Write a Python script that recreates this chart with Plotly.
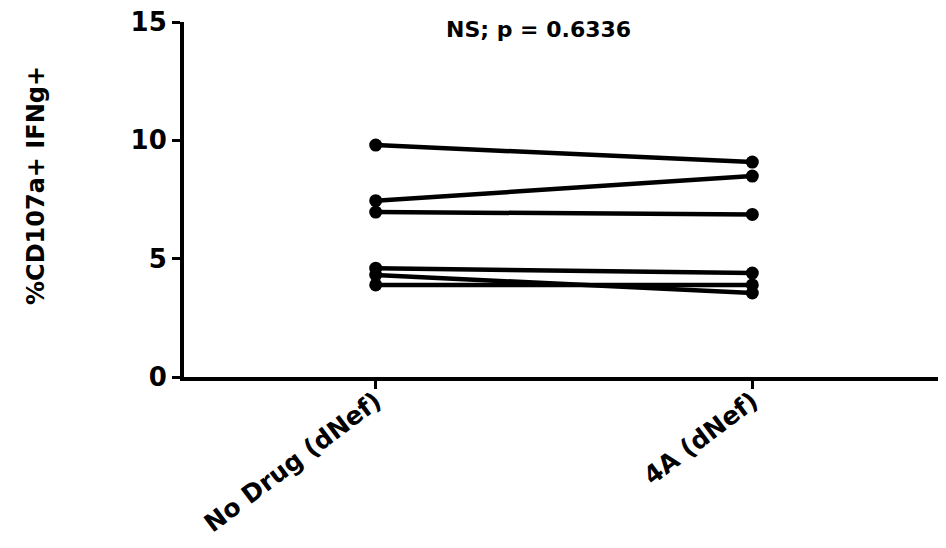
import plotly.graph_objects as go

categories = ["No Drug (dNef)", "4A (dNef)"]
no_drug = [9.8, 7.45, 6.97, 4.6, 4.31, 3.89]
drug_4a = [9.08, 8.49, 6.87, 4.39, 3.55, 3.89]
y_ticks = [0, 5, 10, 15]
title_text = "NS; p = 0.6336"
y_title = "%CD107a+ IFNg+"

fig = go.Figure()
for a, b in zip(no_drug, drug_4a):
    fig.add_trace(go.Scatter(
        x=[0, 1], y=[a, b], mode="lines+markers",
        line=dict(color="black", width=4.5),
        marker=dict(color="black", size=13),
        showlegend=False, hoverinfo="skip"))

wide = "DejaVu Sans, Liberation Sans, Arial, sans-serif"
fig.update_layout(
    width=930, height=532,
    margin=dict(l=176, r=0, t=14, b=163, autoexpand=False),
    paper_bgcolor="white", plot_bgcolor="white",
    xaxis=dict(
        range=[-0.509, 1.493], tickmode="array", tickvals=[0, 1], ticktext=categories,
        tickangle=-37, showgrid=False, zeroline=False, automargin=False,
        showline=True, linecolor="black", linewidth=4,
        ticks="outside", ticklen=8, tickwidth=3, tickcolor="black",
        tickfont=dict(family=wide, size=25, color="black", weight="bold"),
        ticklabeloverflow="allow", ticklabelstandoff=-12,
    ),
    yaxis=dict(
        range=[0, 15], tickmode="array", tickvals=y_ticks,
        showgrid=False, zeroline=False, automargin=False,
        showline=True, linecolor="black", linewidth=4,
        ticks="outside", ticklen=8, tickwidth=3, tickcolor="black",
        tickfont=dict(family=wide, size=26, color="black", weight="bold"),
        ticklabeloverflow="allow",
    ),
)
fig.add_annotation(
    text=y_title, xref="paper", yref="paper", x=(36 - 184) / 754, y=1 - (186 - 22) / 355,
    textangle=-90, showarrow=False, xanchor="center", yanchor="middle",
    font=dict(family=wide, size=24, color="black", weight="bold"))
fig.add_annotation(
    text=title_text, xref="paper", yref="paper", x=(538 - 184) / 754, y=1 - 8 / 355,
    showarrow=False, xanchor="center", yanchor="middle",
    font=dict(family=wide, size=22, color="black", weight="bold"))

fig.write_html("out.html")
